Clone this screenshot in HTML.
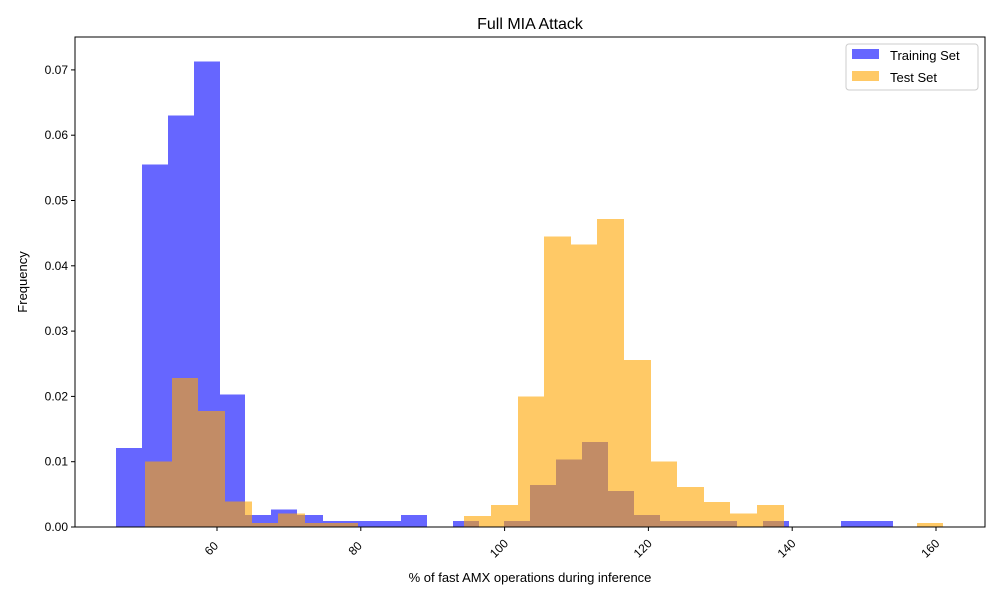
<!DOCTYPE html>
<html><head><meta charset="utf-8"><style>
body{margin:0;background:#fff;}
svg text{font-family:"Liberation Sans",sans-serif;}
</style></head><body>
<svg id="chart" width="1000" height="600" xmlns="http://www.w3.org/2000/svg">
<rect width="1000" height="600" fill="#fff"/>
<text x="530" y="29" font-size="16" text-anchor="middle">Full MIA Attack</text>
<g id="bars" shape-rendering="crispEdges"></g>
<g id="axes"></g>
<text x="530" y="582" font-size="13" text-anchor="middle">% of fast AMX operations during inference</text>
<text transform="translate(27,282) rotate(-90)" font-size="13" text-anchor="middle">Frequency</text>
<g>
<rect x="846" y="44" width="132" height="46" fill="#fff" stroke="#ccc" rx="3"/>
<g><rect x="852" y="49" width="27" height="10" fill="rgba(0,0,255,0.6)"/><text x="890" y="60" font-size="13">Training Set</text></g>
<g><rect x="852" y="71" width="27" height="10" fill="rgba(255,165,0,0.6)"/><text x="890" y="82" font-size="13">Test Set</text></g>
</g>
</svg>
<script>
const trainRange=[45.95,154.0];
const trainValues=[0.0121,0.0555,0.0630,0.0713,0.0203,0.0018,0.0027,0.0018,0.0009,0.0009,0.0009,0.0018,0,0.0009,0,0.0009,0.0064,0.0103,0.0130,0.0055,0.0018,0.0009,0.0009,0.0009,0,0.0009,0,0,0.0009,0.0009];
const testRange=[50.0,161.0];
const testValues=[0.0100,0.0228,0.0178,0.0039,0.0006,0.0021,0.0006,0.0006,0,0,0,0,0.0017,0.0034,0.0200,0.0445,0.0433,0.0472,0.0256,0.0100,0.0061,0.0038,0.0021,0.0034,0,0,0,0,0,0.0006];
const xTicks=[60,80,100,120,140,160];
const yTicks=[0,0.01,0.02,0.03,0.04,0.05,0.06,0.07];
const X0=75,X1=985,Y0=37,Y1=527;
function xs(v){return 217+(v-60)*7.19;}
function ys(v){return 527-v*6530;}
const NS="http://www.w3.org/2000/svg";
const bars=document.getElementById('bars'),axes=document.getElementById('axes');
function drawHist(vals,range,color,name){
  const w=(range[1]-range[0])/vals.length;
  vals.forEach((v,i)=>{
    if(v<=0)return;
    const r=document.createElementNS(NS,'rect');
    const a=Math.round(xs(range[0]+i*w)),b=Math.round(xs(range[0]+(i+1)*w));
    r.setAttribute('x',a);r.setAttribute('width',b-a);
    r.setAttribute('y',ys(v));r.setAttribute('height',ys(0)-ys(v));
    r.setAttribute('fill',color);
    
    
    bars.appendChild(r);
  });
}
drawHist(trainValues,trainRange,'rgba(0,0,255,0.6)','training');
drawHist(testValues,testRange,'rgba(255,165,0,0.6)','test');
const frame=document.createElementNS(NS,'rect');
frame.setAttribute('x',X0);frame.setAttribute('y',Y0);frame.setAttribute('width',X1-X0);frame.setAttribute('height',Y1-Y0);
frame.setAttribute('fill','none');frame.setAttribute('stroke','#000');frame.setAttribute('stroke-width','1');


axes.appendChild(frame);
xTicks.forEach(t=>{
  const x=xs(t);
  const l=document.createElementNS(NS,'line');
  l.setAttribute('x1',x);l.setAttribute('x2',x);l.setAttribute('y1',Y1);l.setAttribute('y2',Y1+4);l.setAttribute('stroke','#000');
  
  
  axes.appendChild(l);
  const tx=document.createElementNS(NS,'text');
  tx.setAttribute('transform','translate('+(x-5)+','+(Y1+22)+') rotate(-45)');
  tx.setAttribute('text-anchor','middle');tx.setAttribute('dominant-baseline','middle');tx.setAttribute('font-size','12');
  tx.textContent=t;
  
  
  axes.appendChild(tx);
});
yTicks.forEach(t=>{
  const y=ys(t);
  const l=document.createElementNS(NS,'line');
  l.setAttribute('x1',X0-4);l.setAttribute('x2',X0);l.setAttribute('y1',y);l.setAttribute('y2',y);l.setAttribute('stroke','#000');
  
  
  axes.appendChild(l);
  const tx=document.createElementNS(NS,'text');
  tx.setAttribute('x',X0-7);tx.setAttribute('y',y+4);
  tx.setAttribute('text-anchor','end');tx.setAttribute('font-size','12');
  tx.textContent=t.toFixed(2);
  
  
  axes.appendChild(tx);
});
</script>
</body></html>
